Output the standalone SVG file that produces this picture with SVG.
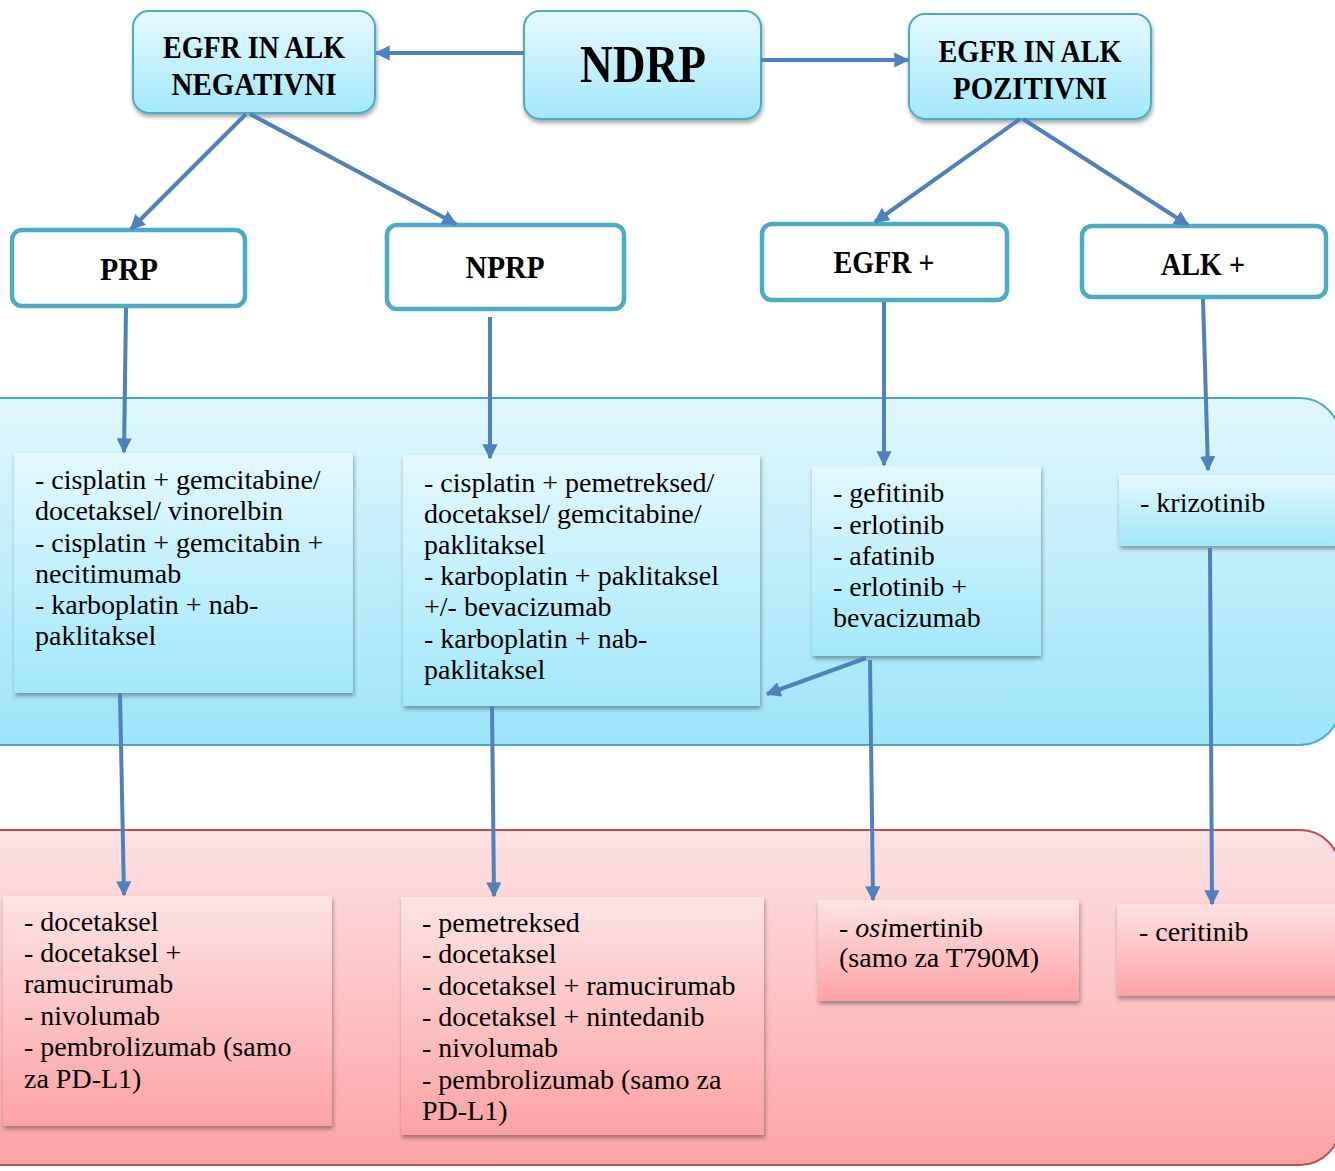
<svg xmlns="http://www.w3.org/2000/svg" width="1335" height="1171" viewBox="0 0 1335 1171">
<defs>
<linearGradient id="gTop" x1="0" y1="0" x2="0" y2="1"><stop offset="0" stop-color="#e6f9fe"/><stop offset="1" stop-color="#a3e8fb"/></linearGradient>
<linearGradient id="gBand" x1="0" y1="0" x2="0" y2="1"><stop offset="0" stop-color="#e0f7fd"/><stop offset="1" stop-color="#9de4f9"/></linearGradient>
<linearGradient id="gBox" x1="0" y1="0" x2="0" y2="1"><stop offset="0" stop-color="#e3f8fe"/><stop offset="1" stop-color="#a2e8fb"/></linearGradient>
<linearGradient id="gPink" x1="0" y1="0" x2="0" y2="1"><stop offset="0" stop-color="#fde2e4"/><stop offset="1" stop-color="#fca3a5"/></linearGradient>
<linearGradient id="gPinkBox" x1="0" y1="0" x2="0" y2="1"><stop offset="0" stop-color="#fde3e5"/><stop offset="1" stop-color="#fca2a4"/></linearGradient>
<filter id="sh" x="-10%" y="-10%" width="120%" height="130%"><feDropShadow dx="1" dy="3" stdDeviation="2" flood-color="#000" flood-opacity="0.35"/></filter>
<marker id="ah" viewBox="0 0 10 10" refX="9" refY="5" markerWidth="3.8" markerHeight="3.8" orient="auto"><path d="M0,0 L10,5 L0,10 z" fill="#4f81bd"/></marker>
<style>
.hd{font-family:"Liberation Serif",serif;font-weight:bold;fill:#000;text-anchor:middle;font-size:31px}
.tx{font-family:"Liberation Serif",serif;font-size:28px;fill:#000}
.top{fill:url(#gTop);stroke:#4bacc6;stroke-width:2;filter:url(#sh)}
.wb{fill:#fff;stroke:#4bacc6;stroke-width:4.5}
.bb{fill:url(#gBox);filter:url(#sh)}
.pb{fill:url(#gPinkBox);filter:url(#sh)}
.cn{fill:none;stroke:#4f81bd;stroke-width:4;marker-end:url(#ah)}
</style>
</defs>
<rect width="1335" height="1171" fill="#fff"/>
<g id="band-blue"><rect x="-60" y="398" width="1400" height="347" rx="40" fill="url(#gBand)" stroke="#4bacc6" stroke-width="2"/></g>
<g id="band-pink"><rect x="-60" y="830" width="1400" height="335" rx="40" fill="url(#gPink)" stroke="#c0504d" stroke-width="2"/></g>

<g id="n-neg"><rect class="top" x="133" y="11" width="242" height="102" rx="16"/>
<text class="hd" x="254" y="58" textLength="182" lengthAdjust="spacingAndGlyphs">EGFR IN ALK</text><text class="hd" x="254" y="95" textLength="165" lengthAdjust="spacingAndGlyphs">NEGATIVNI</text></g>
<g id="n-ndrp"><rect class="top" x="524" y="11" width="237" height="108" rx="16"/>
<text class="hd" style="font-size:52px" x="643" y="82" textLength="126" lengthAdjust="spacingAndGlyphs">NDRP</text></g>
<g id="n-poz"><rect class="top" x="909" y="14" width="242" height="105" rx="16"/>
<text class="hd" x="1030" y="62" textLength="183" lengthAdjust="spacingAndGlyphs">EGFR IN ALK</text><text class="hd" x="1030" y="99" textLength="154" lengthAdjust="spacingAndGlyphs">POZITIVNI</text></g>

<g id="n-prp"><rect class="wb" x="12" y="230" width="233" height="76" rx="10"/><text class="hd" x="129" y="280" textLength="58" lengthAdjust="spacingAndGlyphs">PRP</text></g>
<g id="n-nprp"><rect class="wb" x="387" y="225" width="237" height="84" rx="10"/><text class="hd" x="505" y="278" textLength="79" lengthAdjust="spacingAndGlyphs">NPRP</text></g>
<g id="n-egfr"><rect class="wb" x="762" y="224" width="245" height="76" rx="10"/><text class="hd" x="884" y="273" textLength="101" lengthAdjust="spacingAndGlyphs">EGFR +</text></g>
<g id="n-alk"><rect class="wb" x="1082" y="226" width="244" height="71" rx="10"/><text class="hd" x="1203" y="275" textLength="84" lengthAdjust="spacingAndGlyphs">ALK +</text></g>

<g id="b1"><rect class="bb" x="14" y="453" width="339" height="240"/>
<text class="tx"><tspan x="35" y="489">- cisplatin + gemcitabine/</tspan><tspan x="35" y="520">docetaksel/ vinorelbin</tspan><tspan x="35" y="552">- cisplatin + gemcitabin +</tspan><tspan x="35" y="583">necitimumab</tspan><tspan x="35" y="614">- karboplatin + nab-</tspan><tspan x="35" y="645">paklitaksel</tspan></text></g>
<g id="b2"><rect class="bb" x="403" y="455" width="357" height="251"/>
<text class="tx"><tspan x="424" y="492">- cisplatin + pemetreksed/</tspan><tspan x="424" y="523">docetaksel/ gemcitabine/</tspan><tspan x="424" y="554">paklitaksel</tspan><tspan x="424" y="585">- karboplatin + paklitaksel</tspan><tspan x="424" y="616">+/- bevacizumab</tspan><tspan x="424" y="648">- karboplatin + nab-</tspan><tspan x="424" y="679">paklitaksel</tspan></text></g>
<g id="b3"><rect class="bb" x="812" y="466" width="229" height="190"/>
<text class="tx"><tspan x="833" y="502">- gefitinib</tspan><tspan x="833" y="534">- erlotinib</tspan><tspan x="833" y="565">- afatinib</tspan><tspan x="833" y="596">- erlotinib +</tspan><tspan x="833" y="627">bevacizumab</tspan></text></g>
<g id="b4"><rect class="bb" x="1119" y="475" width="230" height="71"/>
<text class="tx"><tspan x="1140" y="512">- krizotinib</tspan></text></g>

<g id="p1"><rect class="pb" x="3" y="896" width="329" height="230"/>
<text class="tx"><tspan x="24" y="931">- docetaksel</tspan><tspan x="24" y="962">- docetaksel +</tspan><tspan x="24" y="993">ramucirumab</tspan><tspan x="24" y="1025">- nivolumab</tspan><tspan x="24" y="1056">- pembrolizumab (samo</tspan><tspan x="24" y="1088">za PD-L1)</tspan></text></g>
<g id="p2"><rect class="pb" x="401" y="897" width="363" height="238"/>
<text class="tx"><tspan x="422" y="932">- pemetreksed</tspan><tspan x="422" y="963">- docetaksel</tspan><tspan x="422" y="995">- docetaksel + ramucirumab</tspan><tspan x="422" y="1026">- docetaksel + nintedanib</tspan><tspan x="422" y="1057">- nivolumab</tspan><tspan x="422" y="1089">- pembrolizumab (samo za</tspan><tspan x="422" y="1120">PD-L1)</tspan></text></g>
<g id="p3"><rect class="pb" x="818" y="900" width="261" height="101"/>
<text class="tx"><tspan x="839" y="937">- <tspan font-style="italic">osi</tspan>mertinib</tspan><tspan x="839" y="967">(samo za T790M)</tspan></text></g>
<g id="p4"><rect class="pb" x="1117" y="904" width="230" height="92"/>
<text class="tx"><tspan x="1139" y="941">- ceritinib</tspan></text></g>

<g id="connectors">
<line class="cn" x1="524" y1="53" x2="376" y2="53"/>
<line class="cn" x1="761" y1="60" x2="908" y2="60"/>
<line class="cn" x1="246" y1="114" x2="131" y2="229"/>
<line class="cn" x1="250" y1="114" x2="456" y2="224"/>
<line class="cn" x1="1020" y1="119" x2="875" y2="222"/>
<line class="cn" x1="1023" y1="119" x2="1188" y2="225"/>
<line class="cn" x1="126" y1="308" x2="124" y2="452"/>
<line class="cn" x1="490" y1="317" x2="490" y2="458"/>
<line class="cn" x1="884" y1="302" x2="884" y2="465"/>
<line class="cn" x1="1203" y1="299" x2="1208" y2="470"/>
<line class="cn" x1="120" y1="693" x2="124" y2="895"/>
<line class="cn" x1="492" y1="706" x2="494" y2="896"/>
<line class="cn" x1="870" y1="660" x2="873" y2="900"/>
<line class="cn" x1="866" y1="658" x2="767" y2="694"/>
<line class="cn" x1="1210" y1="548" x2="1212" y2="904"/>
</g>
</svg>
